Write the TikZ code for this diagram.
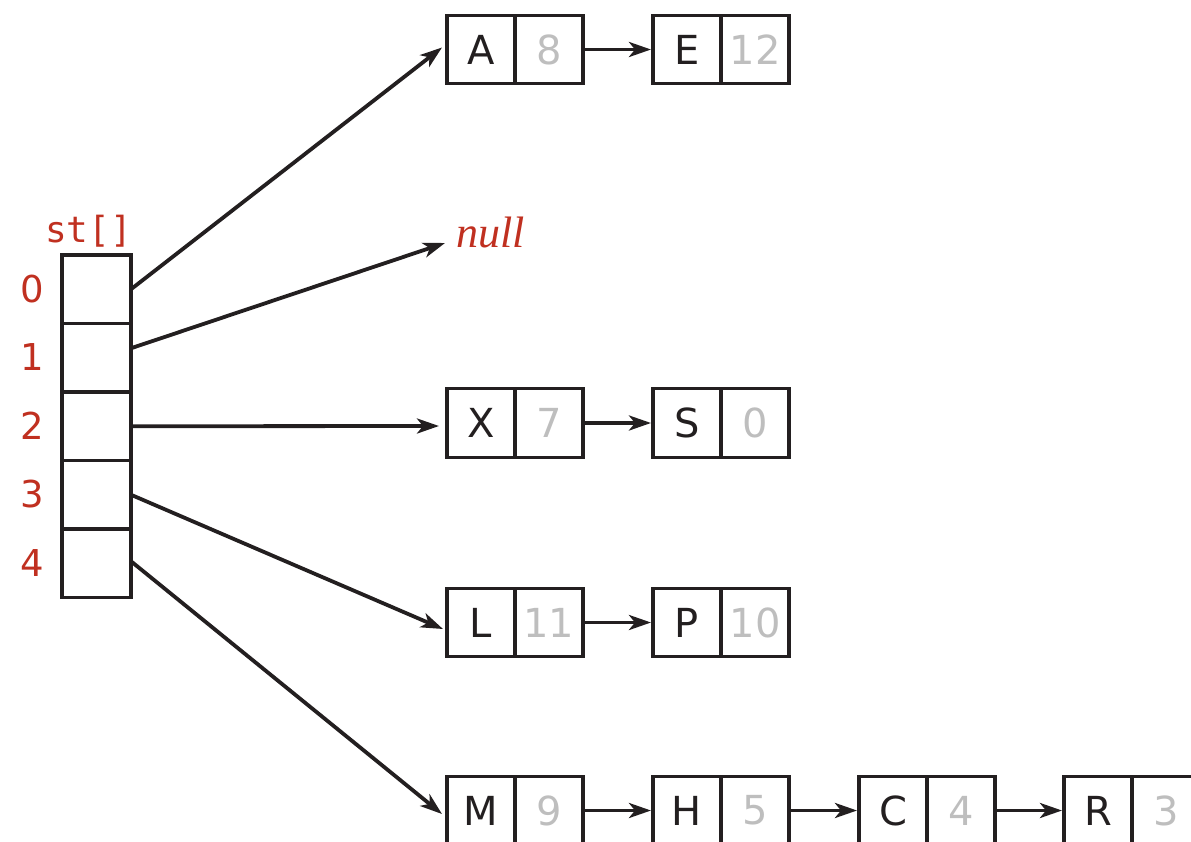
\documentclass[tikz,border=0pt]{standalone}
\usepackage{fontspec}
\usetikzlibrary{arrows.meta,calc}
\newfontfamily\boxfont{DejaVu Sans}
\newfontfamily\arrfont{DejaVu Sans Mono}
\newfontfamily\nulltextfont{Liberation Serif}
\definecolor{ink}{HTML}{231F20}
\definecolor{redink}{HTML}{C03020}
\definecolor{grayink}{HTML}{BEBEBE}
\tikzset{
  cellbox/.style={draw=ink, line width=3.2pt, minimum width=68pt, minimum height=68.5pt, inner sep=0pt, outer sep=0pt},
  keycell/.style={cellbox, text=ink, font=\boxfont\fontsize{40}{48}\selectfont},
  valcell/.style={cellbox, text=grayink, font=\boxfont\fontsize{40}{48}\selectfont},
  arrcell/.style={cellbox, minimum width=69pt},
  idx/.style={text=redink, inner sep=0pt, font=\boxfont\fontsize{37}{42}\selectfont},
  stlabel/.style={text=redink, inner sep=0pt, font=\arrfont\fontsize{36}{42}\selectfont},
  link/.style={draw=ink, line width=3.8pt, -{Stealth[length=22pt,width=15pt,inset=6pt]}},
}
\begin{document}
\begin{tikzpicture}[x=1pt,y=-1pt]
\useasboundingbox (0,0) rectangle (1191,841);
\clip (0,0) rectangle (1191,841);
% array
\node[stlabel, anchor=base] (st) at (88.5,242) {st[]};
\node[arrcell] (c0) at (96.5,289.25) {};
\node[arrcell] (c1) at (96.5,357.75) {};
\node[arrcell] (c2) at (96.5,426.25) {};
\node[arrcell] (c3) at (96.5,494.75) {};
\node[arrcell] (c4) at (96.5,563.25) {};
\node[idx] (i0) at (32,289) {0};
\node[idx] (i1) at (32,357.5) {1};
\node[idx] (i2) at (32,426) {2};
\node[idx] (i3) at (32,494.5) {3};
\node[idx] (i4) at (32,563) {4};
% row 0
\node[keycell] (Ak) at (481,49.5) {A};
\node[valcell] (Av) at (549,49.5) {8};
\node[keycell] (Ek) at (687,49.5) {E};
\node[valcell] (Ev) at (755,49.5) {12};
% row 1
\node[text=redink, inner sep=0pt, anchor=base west, font=\nulltextfont\fontsize{44}{50}\selectfont\itshape] (null) at (456,247) {null};
\coordinate (nulltip) at (445,243);
% row 2
\node[keycell] (Xk) at (481,423) {X};
\node[valcell] (Xv) at (549,423) {7};
\node[keycell] (Sk) at (687,423) {S};
\node[valcell] (Sv) at (755,423) {0};
% row 3
\node[keycell] (Lk) at (481,622.5) {L};
\node[valcell] (Lv) at (549,622.5) {11};
\node[keycell] (Pk) at (687,622.5) {P};
\node[valcell] (Pv) at (755,622.5) {10};
% row 4
\node[keycell] (Mk) at (481,810.5) {M};
\node[valcell] (Mv) at (549,810.5) {9};
\node[keycell] (Hk) at (687,810.5) {H};
\node[valcell] (Hv) at (755,810.5) {5};
\node[keycell] (Ck) at (893,810.5) {C};
\node[valcell] (Cv) at (961,810.5) {4};
\node[keycell] (Rk) at (1098,810.5) {R};
\node[valcell] (Rv) at (1166,810.5) {3};
% links from array
\draw[link] (c0.east) -- ($(Ak.west)+(-5,-2)$);
\draw[link] ($(c1.east)+(0,-9.5)$) -- (nulltip);
\draw[link] (c2.east) -- ($(Xk.west)+(-8,3)$);
\draw[link] (c3.east) -- ($(Lk.west)+(-4,6.5)$);
\draw[link] ($(c4.east)+(0,-2)$) -- ($(Mk.west)+(-5,3.5)$);
% links between list nodes
\draw[link] (Av.east) -- ($(Ek.west)+(-2,0)$);
\draw[link] (Xv.east) -- ($(Sk.west)+(-2,0)$);
\draw[link] (Lv.east) -- ($(Pk.west)+(-2,0)$);
\draw[link] (Mv.east) -- ($(Hk.west)+(-2,0)$);
\draw[link] (Hv.east) -- ($(Ck.west)+(-2,0)$);
\draw[link] (Cv.east) -- ($(Rk.west)+(-2,0)$);
\end{tikzpicture}
\end{document}
